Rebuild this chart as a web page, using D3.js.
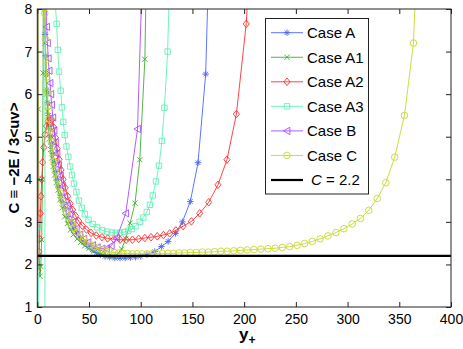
<!DOCTYPE html>
<meta charset="utf-8">
<title>C vs y+</title>
<style>
    body { margin: 0; background: #fff; }
    text { font-family: "Liberation Sans", Arial, Helvetica, sans-serif; }
</style>
<body>
</body>
<script src="https://d3js.org/d3.v7.min.js"></script>
<script>
    const width = 463, height = 349;
    const margin = {left: 37.3, right: 12, top: 9, bottom: 42};

    const xTicks = [0, 50, 100, 150, 200, 250, 300, 350, 400];
    const yTicks = [1, 2, 3, 4, 5, 6, 7, 8];
    const refC = 2.2;

    // Case A
    const caseA_yp = [6.8, 7.0, 7.5, 8.0, 8.6, 9.2, 10, 11, 12, 13, 14, 15.2, 16.5, 18, 19.5, 21, 23, 25, 27, 29.5, 32, 35, 38, 41.5, 45, 49, 53, 57, 61, 65.5, 70, 75, 80, 85, 90, 95, 100, 106, 113.6, 120, 126.5, 133.6, 140.3, 148, 155.4, 162.8, 168];
    const caseA_C = [14, 8.2, 7.4, 6.9, 6.45, 6.1, 5.8, 5.5, 5.25, 5.02, 4.82, 4.6, 4.4, 4.18, 3.99, 3.82, 3.62, 3.45, 3.3, 3.13, 2.99, 2.85, 2.73, 2.61, 2.51, 2.42, 2.34, 2.28, 2.23, 2.19, 2.17, 2.15, 2.15, 2.15, 2.16, 2.17, 2.19, 2.23, 2.3, 2.42, 2.54, 2.73, 3.0, 3.48, 4.39, 6.47, 11];

    // Case A1
    const caseA1_yp = [0.2, 1.0, 1.8, 2.6, 3.4, 4.2, 5.0, 5.6, 6.0, 6.8, 7.3, 7.8, 8.4, 9.0, 9.8, 10.7, 11.7, 12.8, 14, 15.3, 16.7, 18.2, 20, 22, 24, 26.5, 29, 32, 35, 38.5, 42, 46, 50, 54.5, 59, 63.5, 68, 72.5, 77, 81.5, 85.5, 89.7, 94.5, 99.1, 104, 107];
    const caseA1_C = [14, 5.65, 2.2, 1.72, 1.95, 2.58, 4.0, 6.5, 12, 12, 8.0, 7.2, 6.5, 6.0, 5.6, 5.25, 4.95, 4.7, 4.5, 4.3, 4.1, 3.92, 3.75, 3.52, 3.33, 3.12, 2.96, 2.81, 2.7, 2.6, 2.52, 2.44, 2.38, 2.32, 2.27, 2.23, 2.2, 2.19, 2.22, 2.36, 2.6, 2.97, 3.44, 4.46, 6.82, 11];

    // Case A2
    const caseA2_yp = [0.3, 0.6, 1.5, 2.2, 3.0, 3.6, 4.3, 5.2, 6.3, 7.5, 9.0, 10.5, 12, 13.9, 15.8, 17.5, 19.2, 21, 23, 25, 27, 29.3, 31.7, 34.2, 37, 40, 43.5, 47.5, 52, 57, 62.5, 68, 74, 80, 86, 92, 98, 104, 110, 116, 122, 128, 134, 141, 149, 157, 165.7, 174.7, 183.4, 192.5, 202, 210];
    const caseA2_C = [14, 1.85, 2.3, 2.6, 3.2, 3.6, 4.0, 4.4, 4.75, 5.05, 5.25, 5.36, 5.42, 5.4, 5.22, 4.98, 4.72, 4.47, 4.22, 4.0, 3.8, 3.6, 3.43, 3.28, 3.14, 3.02, 2.91, 2.82, 2.74, 2.68, 2.64, 2.61, 2.59, 2.58, 2.58, 2.58, 2.6, 2.62, 2.64, 2.66, 2.69, 2.73, 2.8, 2.9, 3.01, 3.2, 3.46, 3.87, 4.46, 5.53, 7.65, 11];

    // Case A3
    const caseA3_yp = [0.4, 7.3, 7.5, 9, 12, 15, 17.5, 18.7, 19.8, 21, 22.6, 23.8, 25.1, 26.5, 28.2, 30, 31.8, 33.5, 35.5, 37.8, 40.3, 43, 46, 49.5, 53.5, 58, 63, 67.5, 72, 76, 80, 84, 88, 91.3, 95, 99, 102.5, 105.8, 108.8, 111.6, 114.8, 117.7, 120.5, 122.9, 126, 129];
    const caseA3_C = [2.9, -10, 30, 16, 11, 9, 8.1, 7.65, 7.04, 6.53, 6.08, 5.69, 5.35, 5.04, 4.77, 4.53, 4.3, 4.1, 3.9, 3.7, 3.5, 3.33, 3.18, 3.05, 2.95, 2.87, 2.8, 2.77, 2.75, 2.74, 2.74, 2.76, 2.79, 2.83, 2.9, 3.0, 3.1, 3.23, 3.4, 3.62, 3.95, 4.32, 4.9, 5.68, 7.0, 9.5];

    // Case B
    const caseB_yp = [8.0, 9.1, 9.8, 10.6, 11.4, 12.3, 13.1, 13.9, 15, 16.2, 17.5, 19, 20.6, 22.4, 24.4, 26.6, 29, 31.6, 34.5, 37.7, 41.2, 45, 49, 53.5, 58, 62.5, 67, 71.5, 76.8, 85.5, 96.9, 103];
    const caseB_C = [12, 7.58, 7.2, 6.84, 6.55, 6.26, 6.0, 5.75, 5.45, 5.15, 4.87, 4.6, 4.33, 4.08, 3.84, 3.6, 3.38, 3.18, 3.0, 2.84, 2.7, 2.6, 2.52, 2.45, 2.4, 2.37, 2.37, 2.44, 2.62, 3.2, 5.18, 10];

    // Case C
    const caseC_yp = [6.6, 7.2, 7.8, 8.4, 9.0, 9.7, 10.5, 11.4, 12.4, 13.5, 14.7, 16, 17.4, 18.9, 20.5, 22.2, 24, 26, 28.2, 30.5, 33, 35.7, 38.5, 41.5, 44.7, 48, 51.5, 55, 58.7, 62.5, 66.4, 70.4, 74.5, 78.7, 83, 87.4, 91.9, 96.5, 101.2, 106, 111, 116, 121, 126.2, 131.5, 136.9, 142.4, 148, 153.7, 159.5, 165.4, 171.4, 177.5, 183.7, 190, 196.4, 202.9, 209.5, 216.2, 223, 229.9, 236.9, 244, 251.2, 258.5, 265.9, 273.4, 281, 288.7, 296.5, 304.4, 312.4, 320.5, 328.7, 337, 345.6, 355, 363.7, 370];
    const caseC_C = [12, 7.9, 7.3, 6.8, 6.4, 6.05, 5.72, 5.42, 5.14, 4.88, 4.64, 4.42, 4.21, 4.02, 3.84, 3.67, 3.51, 3.36, 3.22, 3.09, 2.97, 2.86, 2.76, 2.67, 2.59, 2.52, 2.46, 2.41, 2.37, 2.34, 2.31, 2.29, 2.28, 2.27, 2.26, 2.26, 2.25, 2.25, 2.25, 2.25, 2.25, 2.25, 2.26, 2.26, 2.26, 2.27, 2.27, 2.28, 2.28, 2.29, 2.29, 2.3, 2.31, 2.31, 2.32, 2.33, 2.34, 2.35, 2.36, 2.37, 2.38, 2.4, 2.42, 2.45, 2.49, 2.54, 2.6, 2.67, 2.75, 2.84, 2.95, 3.08, 3.27, 3.55, 3.92, 4.52, 5.5, 7.2, 11];

    const series = [
        {name: "Case A", yp: caseA_yp, c: caseA_C, color: "#4a66ff", marker: "asterisk"},
        {name: "Case A1", yp: caseA1_yp, c: caseA1_C, color: "#3fae35", marker: "xmark"},
        {name: "Case A2", yp: caseA2_yp, c: caseA2_C, color: "#ff3030", marker: "diamond"},
        {name: "Case A3", yp: caseA3_yp, c: caseA3_C, color: "#5ff2b6", marker: "square"},
        {name: "Case B", yp: caseB_yp, c: caseB_C, color: "#a64dff", marker: "triangle"},
        {name: "Case C", yp: caseC_yp, c: caseC_C, color: "#c8d82a", marker: "circle"}
    ];

    function markerPath(type, cx, cy) {
        if (type === "asterisk") {
            const r = 3.3, k = 2.3;
            return `M${cx - r},${cy}H${cx + r}M${cx},${cy - r}V${cy + r}` +
                `M${cx - k},${cy - k}L${cx + k},${cy + k}M${cx - k},${cy + k}L${cx + k},${cy - k}`;
        }
        if (type === "xmark") {
            const k = 2.6;
            return `M${cx - k},${cy - k}L${cx + k},${cy + k}M${cx - k},${cy + k}L${cx + k},${cy - k}`;
        }
        if (type === "diamond") {
            const r = 3.8;
            return `M${cx},${cy - r}L${cx + r * 0.8},${cy}L${cx},${cy + r}L${cx - r * 0.8},${cy}Z`;
        }
        if (type === "square") {
            const r = 2.7;
            return `M${cx - r},${cy - r}H${cx + r}V${cy + r}H${cx - r}Z`;
        }
        if (type === "triangle") {
            const r = 3.6;
            return `M${cx - r},${cy}L${cx + r * 0.8},${cy - r}L${cx + r * 0.8},${cy + r}Z`;
        }
        const r = 3.3;
        return `M${cx + r},${cy}A${r},${r} 0 1,1 ${cx - r},${cy}A${r},${r} 0 1,1 ${cx + r},${cy}Z`;
    }

    const x = d3.scaleLinear().domain([0, 400]).range([margin.left, width - margin.right]);
    const y = d3.scaleLinear().domain([1, 8]).range([height - margin.bottom, margin.top]);

    const svg = d3.select("body").append("svg")
        .attr("width", width)
        .attr("height", height)
        .style("display", "block");

    svg.append("defs").append("clipPath").attr("id", "plotclip")
        .append("rect")
        .attr("x", x(0)).attr("y", y(8))
        .attr("width", x(400) - x(0)).attr("height", y(1) - y(8));

    const plot = svg.append("g").attr("clip-path", "url(#plotclip)");

    const line = d3.line().x(d => x(d[0])).y(d => y(d[1]));

    series.forEach(s => {
        const pts = s.yp.map((v, i) => [v, s.c[i]]);
        plot.append("path")
            .attr("d", line(pts))
            .attr("fill", "none")
            .attr("stroke", s.color)
            .attr("stroke-width", 0.9);
        plot.append("g")
            .selectAll("path")
            .data(pts)
            .join("path")
            .attr("d", d => markerPath(s.marker, x(d[0]), y(d[1])))
            .attr("fill", "none")
            .attr("stroke", s.color)
            .attr("stroke-width", 0.9);
    });

    plot.append("line")
        .attr("x1", x(0)).attr("x2", x(400))
        .attr("y1", y(refC)).attr("y2", y(refC))
        .attr("stroke", "#000")
        .attr("stroke-width", 2.2);

    // axes
    const styleAxis = g => {
        g.select(".domain").remove();
        g.selectAll("line").attr("stroke", "#222");
        g.selectAll("text").attr("fill", "#000").style("font-size", "14px");
    };

    svg.append("g")
        .attr("transform", `translate(0,${y(1)})`)
        .call(d3.axisBottom(x).tickValues(xTicks).tickSize(-5).tickPadding(7))
        .call(styleAxis);
    svg.append("g")
        .attr("transform", `translate(0,${y(8)})`)
        .call(d3.axisTop(x).tickValues(xTicks).tickSize(-5).tickFormat(""))
        .call(styleAxis);
    svg.append("g")
        .attr("transform", `translate(${x(0)},0)`)
        .call(d3.axisLeft(y).tickValues(yTicks).tickSize(-5).tickPadding(5).tickFormat(d3.format("d")))
        .call(styleAxis);
    svg.append("g")
        .attr("transform", `translate(${x(400)},0)`)
        .call(d3.axisRight(y).tickValues(yTicks).tickSize(-5).tickFormat(""))
        .call(styleAxis);

    svg.append("rect")
        .attr("x", x(0)).attr("y", y(8))
        .attr("width", x(400) - x(0)).attr("height", y(1) - y(8))
        .attr("fill", "none")
        .attr("stroke", "#222")
        .attr("stroke-width", 1);

    // axis labels
    const xl = svg.append("text")
        .attr("x", x(200) + 3)
        .attr("y", 340)
        .attr("text-anchor", "middle")
        .style("font-weight", "bold")
        .style("font-size", "17px");
    xl.append("tspan").text("y");
    xl.append("tspan").attr("dy", 4).style("font-size", "12px").text("+");

    svg.append("text")
        .attr("transform", `translate(19,${(y(1) + y(8)) / 2}) rotate(-90)`)
        .attr("text-anchor", "middle")
        .style("font-weight", "bold")
        .style("font-size", "15px")
        .text("C \u2261 \u22122E / 3<uv>");

    // legend
    const lg = svg.append("g");
    lg.append("rect")
        .attr("x", 265.5).attr("y", 18.5)
        .attr("width", 103).attr("height", 175.5)
        .attr("fill", "#fff")
        .attr("stroke", "#222");

    const rowY = i => 32.7 + i * 24.55;

    series.forEach((s, i) => {
        const cy = rowY(i);
        lg.append("line")
            .attr("x1", 271).attr("x2", 303)
            .attr("y1", cy).attr("y2", cy)
            .attr("stroke", s.color)
            .attr("stroke-width", 0.9);
        lg.append("path")
            .attr("d", markerPath(s.marker, 287, cy))
            .attr("fill", "none")
            .attr("stroke", s.color)
            .attr("stroke-width", 0.9);
        lg.append("text")
            .attr("x", 307)
            .attr("y", cy)
            .attr("dy", "0.35em")
            .style("font-size", "15px")
            .text(s.name);
    });

    const ry = rowY(6);
    lg.append("line")
        .attr("x1", 271).attr("x2", 303)
        .attr("y1", ry).attr("y2", ry)
        .attr("stroke", "#000")
        .attr("stroke-width", 2.2);
    const rt = lg.append("text")
        .attr("x", 311)
        .attr("y", ry)
        .attr("dy", "0.35em")
        .style("font-size", "15px");
    rt.append("tspan").style("font-style", "italic").text("C");
    rt.append("tspan").text(" = " + refC);
</script>
